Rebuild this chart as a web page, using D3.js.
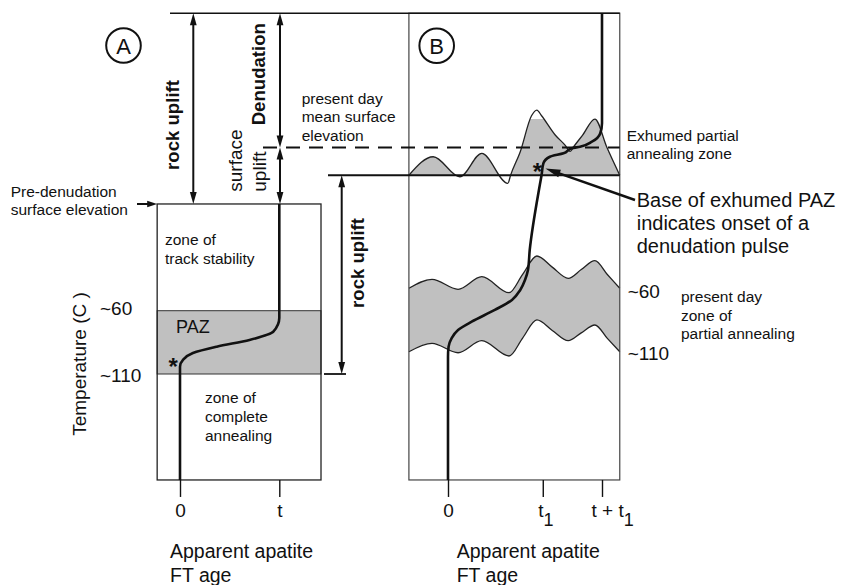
<!DOCTYPE html>
<html>
<head>
<meta charset="utf-8">
<script src="https://cdn.jsdelivr.net/npm/d3@7"></script>
<style>
  html, body { margin: 0; padding: 0; background: #fff; }
  svg { display: block; font-family: "Liberation Sans", Arial, Helvetica, sans-serif; }
</style>
</head>
<body>
<svg id="chart" width="848" height="585"></svg>
<script>
// ---------------- data ----------------
// Vertical axis is temperature (°C); the partial annealing zone spans ~60 to ~110.
const tempTickValues = [60, 110];
const tempTickLabels = ["~60", "~110"];

// Reference levels on the same temperature axis
const datumTemp = -175;          // upper datum line
const meanSurfaceTemp = -69;     // present day mean surface elevation
const preDenudationTemp = -24.3; // pre-denudation surface
const exhumedBaseTemp = -47;     // base of exhumed PAZ
const exhumedTopTemp = -91.5;    // top of preserved exhumed PAZ
const floorTemp = 193.7;         // bottom of the sections

// Panel A: age axis in units of t
const ageTicksA = [0, 1];
const ageLabelsA = ["0", "t"];
const boxAgeA = [-0.23, 1.42];
const profileAgeA  = [1, 1, 0.94, 0.70, 0.37, 0.13, 0.03, 0, 0];
const profileTempA = [-24.3, 65.8, 76.6, 83.1, 88.4, 93.4, 98.9, 104.2, 193.7];
const starA = [-0.07, 100.3];

// Panel B: age axis in units of t (t1 = 1.6 t)
const ageTicksB = [0, 1.6, 2.6];
const ageLabelsB = ["0", "t", "t + t"];
const ageSubsB = ["", "1", "1"];
const boxAgeB = [-0.66, 2.9];
const profileAgeB  = [2.6, 2.6, 2.57, 2.43, 2.23, 2.09, 1.95, 1.72, 1.61, 1.58, 1.55,
                      1.38, 1.35, 1.30, 1.22, 1.08, 0.79, 0.40, 0.17, 0.06, 0.01, 0, 0];
const profileTempB = [-175, -88, -80, -73.5, -69.5, -68.3, -64.3, -61.6, -56.4, -47.2, -39.3,
                      12, 27.8, 35.7, 43.6, 51.5, 59.4, 68.7, 75.2, 81.8, 88.4, 96.3, 193.7];
const starB = [1.51, -53.5];

// Present day partial annealing zone under the relief
const pazAgeB  = [-0.66, -0.27, 0.17, 0.57, 1.03, 1.26, 1.50, 1.76, 2.03, 2.25, 2.48, 2.69, 2.9];
const pazTopB  = [42.3, 35.2, 43.1, 33.1, 45.8, 31.3, 16.8, 25.6, 34.4, 27.5, 20.5, 31.4, 42.3];
const pazBaseB = [92.4, 85.8, 93.2, 83.7, 95.8, 81.6, 67.3, 75.6, 83.7, 77.5, 71.3, 81.9, 92.4];

// Exhumed partial annealing zone (topographic profile)
const exhumedAge  = [-0.66, -0.25, 0.20, 0.57, 1.01, 1.06, 1.22, 1.41, 1.50, 1.58, 1.81, 1.98,
                     2.06, 2.14, 2.27, 2.48, 2.68, 2.9];
const exhumedTemp = [-47, -61.6, -45.8, -64.3, -40.6, -47.5, -65.6, -94, -98.5, -94, -78.8, -70.6,
                     -65.8, -70.7, -78.5, -91.4, -69.3, -47];

// ---------------- scales ----------------
const svg = d3.select("#chart");
const y  = d3.scaleLinear().domain(tempTickValues).range([310.7, 374]);
const xA = d3.scaleLinear().domain(ageTicksA).range([180, 279.3]);
const xB = d3.scaleLinear().domain([ageTicksB[0], ageTicksB[2]]).range([448, 602]);

const GRAY = "#c0c0c0";
const INK = "#111";
const tickLen = 17;

const aL = xA(boxAgeA[0]), aR = xA(boxAgeA[1]);
const bL = xB(boxAgeB[0]), bR = xB(boxAgeB[1]);
const yTop = y(datumTemp), yFloor = y(floorTemp);

// ---------------- panel A ----------------
svg.append("rect")
  .attr("x", aL).attr("y", y(tempTickValues[0]))
  .attr("width", aR - aL).attr("height", y(tempTickValues[1]) - y(tempTickValues[0]))
  .attr("fill", GRAY).attr("stroke", "#333").attr("stroke-width", 1);
svg.append("rect")
  .attr("x", aL).attr("y", y(preDenudationTemp))
  .attr("width", aR - aL).attr("height", yFloor - y(preDenudationTemp))
  .attr("fill", "none").attr("stroke", "#222").attr("stroke-width", 1.3);

// ---------------- panel B ----------------
const pazRows = pazAgeB.map((a, i) => ({ a, top: pazTopB[i], base: pazBaseB[i] }));
svg.append("path").datum(pazRows)
  .attr("d", d3.area().x(d => xB(d.a)).y0(d => y(d.base)).y1(d => y(d.top)).curve(d3.curveMonotoneX))
  .attr("fill", GRAY);
["top", "base"].forEach(k => {
  svg.append("path").datum(pazRows)
    .attr("d", d3.line().x(d => xB(d.a)).y(d => y(d[k])).curve(d3.curveMonotoneX))
    .attr("fill", "none").attr("stroke", "#222").attr("stroke-width", 1.3);
});

const exRows = exhumedAge.map((a, i) => ({ a, t: exhumedTemp[i] }));
svg.append("clipPath").attr("id", "exClip").append("rect")
  .attr("x", bL).attr("y", y(exhumedTopTemp))
  .attr("width", bR - bL).attr("height", y(exhumedBaseTemp) - y(exhumedTopTemp));
svg.append("path").datum(exRows)
  .attr("clip-path", "url(#exClip)")
  .attr("d", d3.area().x(d => xB(d.a)).y0(y(exhumedBaseTemp)).y1(d => y(d.t)).curve(d3.curveMonotoneX))
  .attr("fill", GRAY);
svg.append("path").datum(exRows)
  .attr("d", d3.line().x(d => xB(d.a)).y(d => y(d.t)).curve(d3.curveMonotoneX))
  .attr("fill", "none").attr("stroke", "#222").attr("stroke-width", 1.3);

svg.append("rect")
  .attr("x", bL).attr("y", yTop)
  .attr("width", bR - bL).attr("height", yFloor - yTop)
  .attr("fill", "none").attr("stroke", "#444").attr("stroke-width", 1.2);

// ---------------- reference lines ----------------
svg.append("line").attr("x1", 170).attr("x2", bR).attr("y1", yTop).attr("y2", yTop)
  .attr("stroke", INK).attr("stroke-width", 1.6);
svg.append("line").attr("x1", 263).attr("x2", bR)
  .attr("y1", y(meanSurfaceTemp)).attr("y2", y(meanSurfaceTemp))
  .attr("stroke", INK).attr("stroke-width", 2).attr("stroke-dasharray", "14,9");
svg.append("line").attr("x1", 328).attr("x2", bR)
  .attr("y1", y(exhumedBaseTemp)).attr("y2", y(exhumedBaseTemp))
  .attr("stroke", INK).attr("stroke-width", 1.8);
svg.append("line").attr("x1", 324).attr("x2", 346)
  .attr("y1", y(tempTickValues[1])).attr("y2", y(tempTickValues[1]))
  .attr("stroke", INK).attr("stroke-width", 1.8);

// ---------------- age profiles ----------------
const profA = profileAgeA.map((a, i) => ({ a, t: profileTempA[i] }));
const profB = profileAgeB.map((a, i) => ({ a, t: profileTempB[i] }));
svg.append("path").datum(profA)
  .attr("d", d3.line().x(d => xA(d.a)).y(d => y(d.t)).curve(d3.curveMonotoneY))
  .attr("fill", "none").attr("stroke", INK).attr("stroke-width", 2.6);
svg.append("path").datum(profB)
  .attr("d", d3.line().x(d => xB(d.a)).y(d => y(d.t)).curve(d3.curveMonotoneY))
  .attr("fill", "none").attr("stroke", INK).attr("stroke-width", 2.6);

// ---------------- age axes ----------------
const axisA = svg.append("g").attr("transform", `translate(0,${yFloor})`)
  .call(d3.axisBottom(xA).tickValues(ageTicksA).tickFormat((d, i) => ageLabelsA[i]).tickSize(tickLen).tickPadding(7));
const axisB = svg.append("g").attr("transform", `translate(0,${yFloor})`)
  .call(d3.axisBottom(xB).tickValues(ageTicksB).tickFormat((d, i) => ageLabelsB[i]).tickSize(tickLen).tickPadding(7));
[axisA, axisB].forEach(g => {
  g.select(".domain").remove();
  g.selectAll(".tick line").attr("stroke", INK).attr("stroke-width", 1.4);
  g.selectAll(".tick text").attr("fill", INK).attr("font-size", 19)
    .attr("font-family", "Liberation Sans, Arial, sans-serif");
});
axisB.selectAll(".tick text").each(function (d, i) {
  if (!ageSubsB[i]) return;
  const t = d3.select(this);
  t.append("tspan").attr("dy", "0.45em").attr("font-size", 18).text(ageSubsB[i]);
  t.attr("text-anchor", "start").attr("x", i === 1 ? -5 : -11);
});

// ---------------- arrows ----------------
function head(x, yy, ang, L = 12, W = 3.4) {
  const c = Math.cos(ang), s = Math.sin(ang);
  const p = (u, v) => [x + u * c - v * s, yy + u * s + v * c];
  svg.append("path")
    .attr("d", "M" + [p(0, 0), p(-L, -W), p(-L, W)].map(q => q.join(",")).join("L") + "Z")
    .attr("fill", INK);
}
function vArrow(x, y1, y2) {
  svg.append("line").attr("x1", x).attr("x2", x).attr("y1", y1 + 8).attr("y2", y2 - 8)
    .attr("stroke", INK).attr("stroke-width", 2);
  head(x, y1, -Math.PI / 2);
  head(x, y2, Math.PI / 2);
}
vArrow(193.3, yTop, y(preDenudationTemp));
vArrow(280, yTop, y(meanSurfaceTemp));
vArrow(280, y(meanSurfaceTemp), y(preDenudationTemp));
vArrow(341.7, y(exhumedBaseTemp), y(tempTickValues[1]));
// Pre-denudation surface pointer
svg.append("line").attr("x1", 137).attr("x2", aL - 6)
  .attr("y1", y(preDenudationTemp)).attr("y2", y(preDenudationTemp))
  .attr("stroke", INK).attr("stroke-width", 2);
head(aL, y(preDenudationTemp), 0, 10, 3.2);
// Pointer to the base of the exhumed PAZ
{
  const x0 = 635, y0 = 200, x1 = xB(starB[0]) + 8, y1 = y(starB[1]) + 1.5;
  const ang = Math.atan2(y1 - y0, x1 - x0);
  svg.append("line").attr("x1", x0).attr("y1", y0)
    .attr("x2", x1 - 10 * Math.cos(ang)).attr("y2", y1 - 10 * Math.sin(ang))
    .attr("stroke", INK).attr("stroke-width", 2.4);
  head(x1, y1, ang, 15, 4);
}

// ---------------- stars ----------------
function star(x, yy) {
  svg.append("text").attr("x", x).attr("y", yy + 13).attr("text-anchor", "middle")
    .attr("font-size", 24).attr("font-weight", "bold").attr("fill", INK).text("*");
}
star(xA(starA[0]), y(starA[1]));
star(xB(starB[0]), y(starB[1]));

// ---------------- panel letters ----------------
[["A", 123.5, 45.5], ["B", 436.7, 45.7]].forEach(([L, cx, cy]) => {
  svg.append("circle").attr("cx", cx).attr("cy", cy).attr("r", 17.3)
    .attr("fill", "none").attr("stroke", INK).attr("stroke-width", 2);
  svg.append("text").attr("x", cx).attr("y", cy + 8).attr("text-anchor", "middle")
    .attr("font-size", 22).attr("fill", INK).text(L);
});

// ---------------- text ----------------
function lines(x, y0, dy, arr, size, opts = {}) {
  const t = svg.append("text").attr("x", x).attr("y", y0).attr("font-size", size).attr("fill", INK);
  if (opts.bold) t.attr("font-weight", "bold");
  if (opts.anchor) t.attr("text-anchor", opts.anchor);
  arr.forEach((s, i) => t.append("tspan").attr("x", x).attr("y", y0 + i * dy).text(s));
  return t;
}
function vtext(x, yy, s, size, opts = {}) {
  const t = svg.append("text").attr("transform", `translate(${x},${yy}) rotate(-90)`)
    .attr("font-size", size).attr("fill", INK).attr("text-anchor", opts.anchor || "middle").text(s);
  if (opts.bold) t.attr("font-weight", "bold");
  return t;
}

lines(10.7, 196.7, 18.3, ["Pre-denudation", "surface elevation"], 15.5);
lines(165, 245, 18.5, ["zone of", "track stability"], 15.5);
lines(205, 403.3, 18.7, ["zone of", "complete", "annealing"], 15.5);
lines(176, 333.3, 0, ["PAZ"], 18);
lines(301.7, 104, 18.4, ["present day", "mean surface", "elevation"], 15.5);
lines(626.7, 140.7, 18.3, ["Exhumed partial", "annealing zone"], 15.5);
lines(636.7, 206.7, 23, ["Base of exhumed PAZ", "indicates onset of a", "denudation pulse"], 20);
lines(681, 301.7, 18.8, ["present day", "zone of", "partial annealing"], 15.5);
lines(170, 558.3, 23.2, ["Apparent apatite", "FT age"], 19.5);
lines(456.7, 558.3, 23.2, ["Apparent apatite", "FT age"], 19.5);

// temperature labels
tempTickLabels.forEach((s, i) => lines(100, y(tempTickValues[i]) + [4.5, 7.5][i], 0, [s], 19));
lines(627.7, y(pazTopB[pazTopB.length - 1]) + 10, 0, [tempTickLabels[0]], 19);
lines(627.7, y(pazBaseB[pazBaseB.length - 1]) + 8.3, 0, [tempTickLabels[1]], 19);

vtext(86.3, 364, "Temperature (C )", 19);
vtext(179, 125, "rock uplift", 18.6, { bold: true });
vtext(265, 74.2, "Denudation", 18.6, { bold: true });
vtext(242, 191.7, "surface", 19, { anchor: "start" });
vtext(266, 191.7, "uplift", 19, { anchor: "start" });
vtext(364, 263, "rock uplift", 18.6, { bold: true });
</script>
</body>
</html>
